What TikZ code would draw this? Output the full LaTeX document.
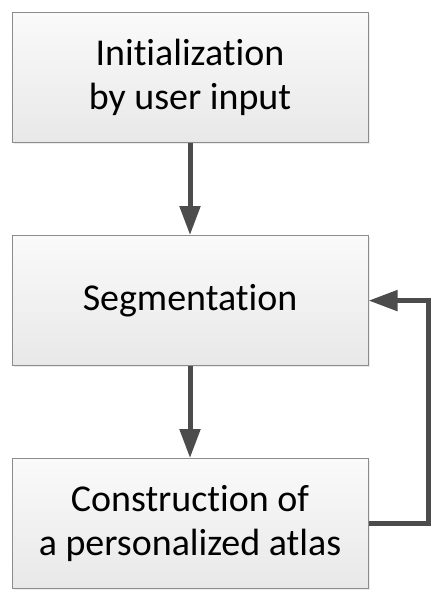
\documentclass[tikz,border=0pt]{standalone}
\usepackage{fontspec}
\setmainfont[Ligatures=NoCommon]{Carlito}
\usetikzlibrary{positioning,arrows.meta,shadows}

\tikzset{
    stagebox/.style={rectangle, draw=black!45, line width=0.05cm,
        top color=black!2, bottom color=black!9,
        drop shadow={shadow xshift=0.08cm, shadow yshift=-0.08cm, fill=black!12, opacity=0.6},
        minimum width=17.8cm, minimum height=6.5cm, align=center,
        font=\fontsize{54}{63}\selectfont},
    flow/.style={draw=black!70, line width=0.25cm,
        -{Triangle[length=1.45cm, width=1cm]}}
}

\begin{document}
\begin{tikzpicture}
    \useasboundingbox (0,0) rectangle (22.35,-30);

    % Draw boxes
    \node[stagebox] (init) at (9.5,-3.88) {Initialization\\by user input};
    \node[stagebox, below=4.6cm of init] (seg) {Segmentation};
    \node[stagebox, below=4.6cm of seg] (atlas) {Construction of\\a personalized atlas};

    % Draw arrows
    \draw[flow] (init) -- (seg);
    \draw[flow] (seg) -- (atlas);
    \coordinate (loop) at (21.4,0);
    \draw[flow] (atlas.east) -| (loop |- atlas.east) |- (seg.east);

\end{tikzpicture}
\end{document}
